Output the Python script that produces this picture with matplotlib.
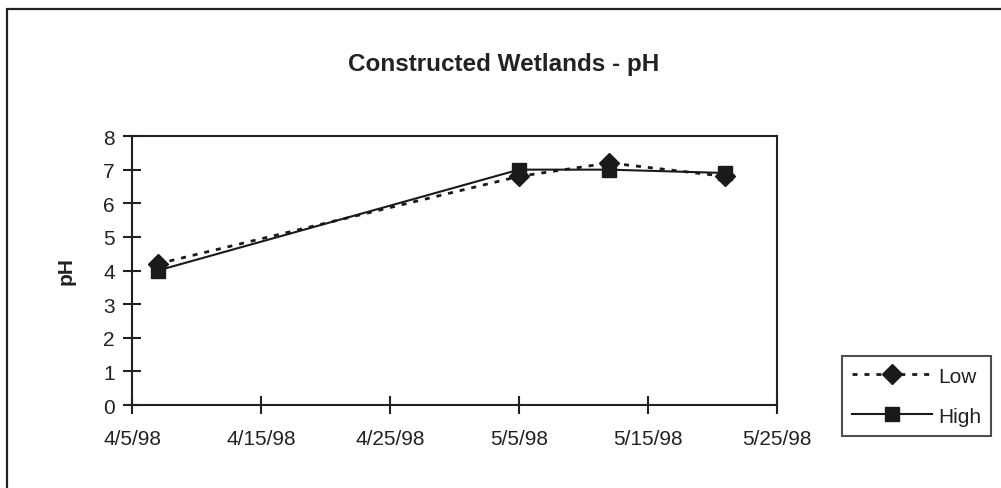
import datetime as dt
import matplotlib
matplotlib.use("Agg")
import matplotlib.pyplot as plt
import matplotlib.dates as mdates
from matplotlib.patches import Rectangle

plt.rcParams['font.family'] = ['Liberation Sans', 'DejaVu Sans']

# sampling dates and pH readings
dates = [dt.date(1998, 4, 7), dt.date(1998, 5, 5), dt.date(1998, 5, 12), dt.date(1998, 5, 21)]
ph_low = [4.2, 6.8, 7.2, 6.8]
ph_high = [4.0, 7.0, 7.0, 6.9]
tick_dates = [dt.date(1998, 4, 5) + dt.timedelta(days=10 * i) for i in range(6)]

fig = plt.figure(figsize=(10.01, 4.89), dpi=100)
ax = fig.add_axes([0.1319, 0.1697, 0.6443, 0.5501])

# chart area border (runs off the right and bottom edges)
fig.patches.append(Rectangle((7 / 1001, -0.1), 1.2, 1 - 10 / 489 + 0.1,
                             transform=fig.transFigure, fill=False,
                             edgecolor='#222222', linewidth=1.6))

ax.plot(dates, ph_low, color='#1a1a1a', linestyle=(0, (1.8, 2.5)), linewidth=2,
        marker='D', markersize=10, label='Low')
ax.plot(dates, ph_high, color='#1a1a1a', linestyle='-', linewidth=1.5,
        marker='s', markersize=9.5, label='High')

ax.set_xlim(tick_dates[0], tick_dates[-1])
ax.set_ylim(0, 8)
ax.set_xticks(tick_dates)
ax.xaxis.set_major_formatter(plt.FuncFormatter(
    lambda v, p: (lambda d: f"{d.month}/{d.day}/{d.strftime('%y')}")(mdates.num2date(v))))
ax.set_yticks(range(0, 9))

for s in ax.spines.values():
    s.set_color('#222222')
    s.set_linewidth(1.5)
ax.tick_params(direction='inout', length=13, width=1.5, color='#222222',
               labelsize=15, labelcolor='#222222')
ax.tick_params(axis='x', pad=11)
ax.tick_params(axis='y', pad=6)

ax.set_ylabel('pH', fontsize=15, fontweight='bold', color='#222222', labelpad=20)
fig.text(0.5 * (7 + 1001) / 1001, 1 - 65 / 489, 'Constructed Wetlands - pH',
         ha='center', va='center', fontsize=17.5, fontweight='bold', color='#222222')

leg = ax.legend(loc='lower left', bbox_to_anchor=(842 / 1001, 52 / 489),
                bbox_transform=fig.transFigure, fontsize=15, frameon=True,
                fancybox=False, edgecolor='#222222', handlelength=3.8,
                handletextpad=0.3, borderpad=0.5, labelspacing=1.0,
                borderaxespad=0)
leg.get_frame().set_linewidth(1.5)
for t in leg.get_texts():
    t.set_color('#222222')

fig.savefig('out.png', dpi=100, facecolor='white')
